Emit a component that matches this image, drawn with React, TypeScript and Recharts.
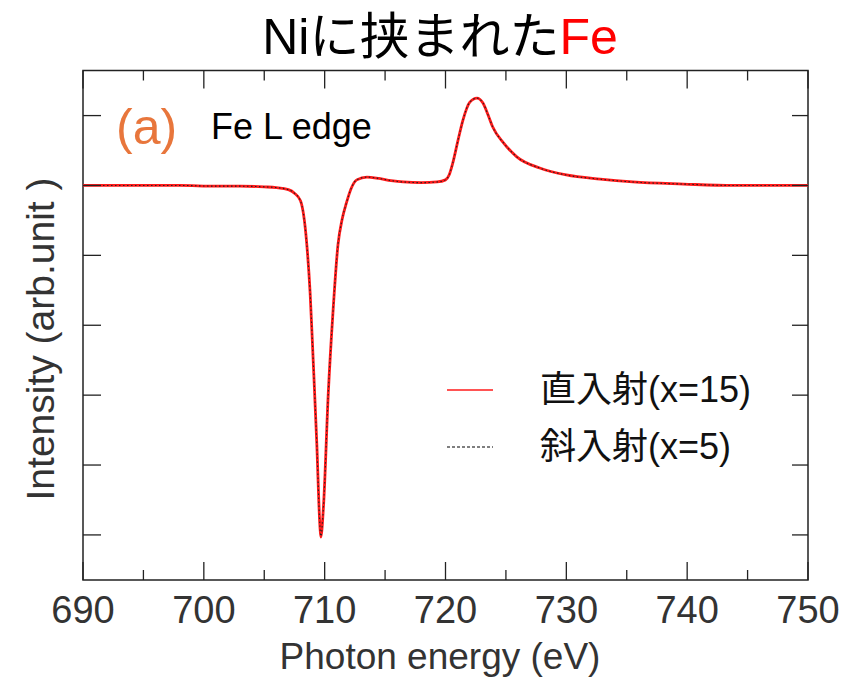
import React from 'react'
import { Line, LineChart, ReferenceArea, XAxis, YAxis } from 'recharts'

// Photon energy grid (eV)
const energy = [
  690, 694, 698, 701, 703, 705, 706, 707, 707.5, 708, 708.5, 708.8, 709.05, 709.35, 709.6,
  709.68, 709.9, 710.3, 710.7, 711.1, 711.45, 711.8, 712.2, 712.65, 713.5, 714.5, 715.5,
  716.5, 718, 719.3, 720, 720.3, 720.6, 721, 721.45, 722, 722.6, 723.1, 723.5, 723.9, 724.8,
  725.9, 727.8, 730, 732.8, 735.5, 739.7, 743.8, 750,
]

// 直入射 (x=15)
const normalIntensity = [
  5.0, 5.0, 5.0, 4.99, 4.99, 4.98, 4.97, 4.94, 4.89, 4.78, 4.2, 3.45, 2.5, 1.3, 0.15,
  -0.03, 0.4, 2.03, 3.22, 4.15, 4.52, 4.75, 4.96, 5.08, 5.12, 5.1, 5.07,
  5.05, 5.04, 5.05, 5.08, 5.15, 5.32, 5.62, 5.94, 6.19, 6.25, 6.18, 6.02, 5.84, 5.61,
  5.41, 5.25, 5.15, 5.09, 5.05, 5.02, 5.0, 5.0,
]

// 斜入射 (x=5)
const obliqueIntensity = [
  5.0, 5.0, 5.0, 4.99, 4.99, 4.98, 4.97, 4.94, 4.89, 4.78, 4.2, 3.45, 2.5, 1.3, 0.15,
  -0.02, 0.4, 2.03, 3.22, 4.15, 4.52, 4.75, 4.96, 5.08, 5.12, 5.1, 5.07,
  5.05, 5.04, 5.05, 5.08, 5.15, 5.32, 5.62, 5.94, 6.19, 6.25, 6.18, 6.02, 5.84, 5.61,
  5.41, 5.25, 5.15, 5.09, 5.05, 5.02, 5.0, 5.0,
]

const xTicks = [690, 695, 700, 705, 710, 715, 720, 725, 730, 735, 740, 745, 750]
const yTicks = [0, 1, 2, 3, 4, 5, 6]

const rows = energy.map((e, i) => ({
  e,
  normal: normalIntensity[i],
  oblique: obliqueIntensity[i],
}))

const series = [
  { key: 'normal', name: '直入射(x=15)', color: '#ff1a1a', width: 2.8, dash: undefined },
  { key: 'oblique', name: '斜入射(x=5)', color: '#222', width: 1.1, dash: '1.5 2.5' },
]

const W = 843
const H = 678
const X_AXIS_H = 30
const Y_AXIS_W = 30
const PLOT_TOP = 70.5
const PLOT_BOTTOM = 580
const PLOT_LEFT = 83
const PLOT_RIGHT = 808
const M = {
  top: PLOT_TOP,
  right: W - PLOT_RIGHT,
  bottom: H - PLOT_BOTTOM - X_AXIS_H,
  left: PLOT_LEFT - Y_AXIS_W,
}

const FONT = '"Liberation Sans", Arial, "Noto Sans CJK JP", sans-serif'
const AXIS_GREY = '#333'
const FRAME = '#222'

// x ticks point inward on the bottom and top edges; labels on every 10 eV
function XTick(props: any) {
  const { x, payload } = props
  const major = payload.value % 10 === 0
  const len = major ? 18 : 10
  return (
    <g>
      <line x1={x} x2={x} y1={PLOT_BOTTOM} y2={PLOT_BOTTOM - len} stroke={FRAME} strokeWidth={1.3} />
      <line x1={x} x2={x} y1={PLOT_TOP} y2={PLOT_TOP + len} stroke={FRAME} strokeWidth={1.3} />
      {major && (
        <text
          x={x}
          y={610}
          textAnchor="middle"
          dominantBaseline="central"
          fontFamily={FONT}
          fontSize={38}
          fill={AXIS_GREY}
        >
          {payload.value}
        </text>
      )}
    </g>
  )
}

// y ticks without labels, inward on both sides
function YTick(props: any) {
  const { y } = props
  return (
    <g>
      <line x1={PLOT_LEFT} x2={PLOT_LEFT + 18} y1={y} y2={y} stroke={FRAME} strokeWidth={1.3} />
      <line x1={PLOT_RIGHT} x2={PLOT_RIGHT - 16} y1={y} y2={y} stroke={FRAME} strokeWidth={1.3} />
    </g>
  )
}

function SeriesLegend() {
  return (
    <div style={{ position: 'absolute', left: 447, top: 361 }}>
      {series.map((s) => (
        <div key={s.key} style={{ display: 'flex', alignItems: 'center', height: 57 }}>
          <svg width={93} height={10}>
            <line
              x1={0}
              x2={46}
              y1={5}
              y2={5}
              stroke={s.dash ? '#555' : s.color}
              strokeWidth={s.dash ? 1.3 : 1.6}
              strokeDasharray={s.dash ? '3 2' : undefined}
            />
          </svg>
          <span style={{ fontFamily: FONT, fontSize: 36, color: '#111', lineHeight: '36px' }}>
            {s.name}
          </span>
        </div>
      ))}
    </div>
  )
}

export default function App() {
  return (
    <div style={{ position: 'absolute', left: 0, top: 0, width: W, height: H, background: '#fff' }}>
      <LineChart width={W} height={H} data={rows} margin={M}>
        <XAxis
          dataKey="e"
          type="number"
          domain={[690, 750]}
          ticks={xTicks}
          interval={0}
          height={X_AXIS_H}
          axisLine={false}
          tickLine={false}
          tick={<XTick />}
        />
        <YAxis
          type="number"
          domain={[-0.645, 6.645]}
          ticks={yTicks}
          interval={0}
          width={Y_AXIS_W}
          axisLine={false}
          tickLine={false}
          tick={<YTick />}
          allowDataOverflow
        />
        <ReferenceArea
          x1={690}
          x2={750}
          y1={-0.645}
          y2={6.645}
          fill="none"
          stroke={FRAME}
          strokeWidth={1.5}
          fillOpacity={0}
        />
        {series.map((s) => (
          <Line
            key={s.key}
            name={s.name}
            dataKey={s.key}
            type="monotone"
            stroke={s.color}
            strokeWidth={s.width}
            strokeDasharray={s.dash}
            dot={false}
            isAnimationActive={false}
          />
        ))}
      </LineChart>

      <SeriesLegend />

      <div
        style={{
          position: 'absolute',
          left: 190,
          width: 500,
          top: 12,
          textAlign: 'center',
          fontFamily: FONT,
          fontSize: 50,
          lineHeight: '50px',
          color: '#000',
        }}
      >
        Niに挟まれた<span style={{ color: '#ff0000' }}>Fe</span>
      </div>

      <div
        style={{
          position: 'absolute',
          left: 116,
          top: 102,
          fontFamily: FONT,
          fontSize: 50,
          lineHeight: '50px',
          color: '#e8763c',
        }}
      >
        (a)
      </div>
      <div
        style={{
          position: 'absolute',
          left: 211,
          top: 109,
          fontFamily: FONT,
          fontSize: 36,
          lineHeight: '36px',
          color: '#000',
        }}
      >
        Fe L edge
      </div>

      <div
        style={{
          position: 'absolute',
          left: 190,
          width: 500,
          top: 638,
          textAlign: 'center',
          fontFamily: FONT,
          fontSize: 37,
          lineHeight: '37px',
          color: AXIS_GREY,
        }}
      >
        Photon energy (eV)
      </div>

      <div
        style={{
          position: 'absolute',
          left: 40,
          top: 339,
          transform: 'translate(-50%, -50%) rotate(-90deg)',
          whiteSpace: 'nowrap',
          fontFamily: FONT,
          fontSize: 39,
          lineHeight: '39px',
          color: AXIS_GREY,
        }}
      >
        Intensity (arb.unit )
      </div>
    </div>
  )
}
